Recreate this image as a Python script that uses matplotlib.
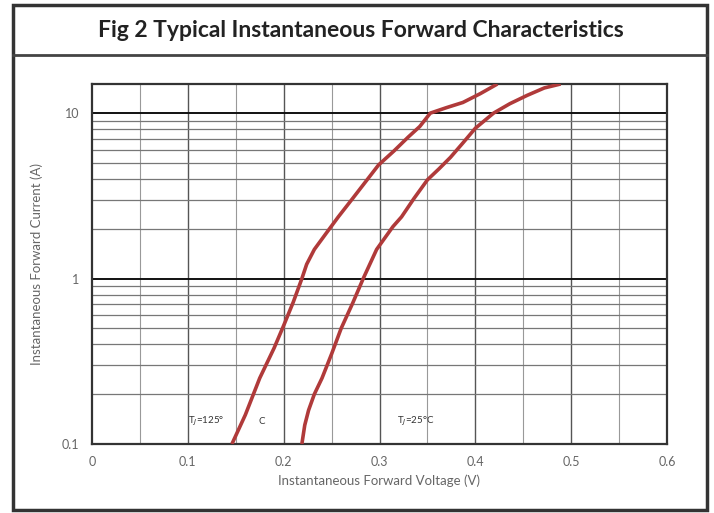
import numpy as np
import matplotlib.pyplot as plt
from matplotlib.patches import Rectangle
from matplotlib.lines import Line2D

# Forward characteristics
v_125 = [0.146, 0.160, 0.175, 0.190, 0.200, 0.210, 0.219, 0.224, 0.232, 0.245, 0.257, 0.272, 0.287,
         0.299, 0.315, 0.330, 0.342, 0.353, 0.370, 0.387, 0.405, 0.423]
i_125 = [0.10, 0.15, 0.25, 0.38, 0.52, 0.72, 1.00, 1.22, 1.50, 1.90, 2.36, 3.05, 3.95,
         4.86, 5.90, 7.17, 8.30, 10.0, 10.8, 11.6, 13.1, 15.0]

v_25 = [0.219, 0.222, 0.226, 0.232, 0.240, 0.250, 0.260, 0.272, 0.283, 0.297, 0.314, 0.323, 0.336,
        0.350, 0.362, 0.374, 0.387, 0.400, 0.419, 0.436, 0.454, 0.472, 0.489]
i_25 = [0.10, 0.13, 0.16, 0.20, 0.25, 0.35, 0.50, 0.71, 1.00, 1.50, 2.06, 2.36, 3.05,
        3.95, 4.60, 5.40, 6.60, 8.10, 10.0, 11.4, 12.8, 14.2, 15.0]

x_ticks = [0, 0.1, 0.2, 0.3, 0.4, 0.5, 0.6]
x_labels = ['0', '0.1', '0.2', '0.3', '0.4', '0.5', '0.6']
y_ticks = [0.1, 1, 10]
y_labels = ['0.1', '1', '10']

plt.rcParams['font.family'] = ['Lato', 'DejaVu Sans']

fig = plt.figure(figsize=(7.14, 5.13), dpi=100)
W, H = 714, 513

# outer frame and title box
frame = Rectangle((13 / W, 1 - 510 / H), (707 - 13) / W, (510 - 5) / H, transform=fig.transFigure,
                  fill=False, edgecolor='#333333', linewidth=2.5)
fig.add_artist(frame)
fig.add_artist(Line2D([13 / W, 707 / W], [1 - 55 / H, 1 - 55 / H], transform=fig.transFigure,
                      color='#444444', linewidth=2))
fig.text(361 / W, 1 - 31 / H, 'Fig 2 Typical Instantaneous Forward Characteristics',
         ha='center', va='center', fontsize=16.5, fontweight='bold', color='#222222')

ax = fig.add_axes([92 / W, 1 - 444 / H, (667 - 92) / W, (444 - 84) / H])
ax.set_yscale('log')
ax.set_xlim(0, 0.6)
ax.set_ylim(0.1, 15)

# grid: vertical every 0.05, horizontal at 2..9 of each decade
for x in np.arange(0.05, 0.6, 0.05):
    major = abs(round(x * 10) - x * 10) < 1e-6
    ax.axvline(x, color='#555555' if major else '#999999', linewidth=1.0 if major else 0.8, zorder=1)
for dec in [0.1, 1]:
    for k in range(2, 10):
        ax.axhline(dec * k, color='#777777', linewidth=0.9, zorder=1)
ax.axhline(1, color='#111111', linewidth=1.4, zorder=1)
ax.axhline(10, color='#111111', linewidth=1.4, zorder=1)

ax.plot(v_125, i_125, color='#b03a3a', linewidth=2.6, zorder=3, solid_capstyle='butt')
ax.plot(v_25, i_25, color='#b03a3a', linewidth=2.6, zorder=3, solid_capstyle='butt')

ax.text(0.1, 0.137, 'T$_J$=125°', fontsize=7, color='#333333', va='center', ha='left')
ax.text(0.174, 0.137, 'C', fontsize=7, color='#333333', va='center', ha='left')
ax.text(0.318, 0.137, 'T$_J$=25°C', fontsize=7, color='#333333', va='center', ha='left')

ax.set_xticks(x_ticks, labels=x_labels)
ax.set_yticks(y_ticks, labels=y_labels)
ax.yaxis.set_minor_locator(plt.NullLocator())
ax.tick_params(length=0, labelsize=9, labelcolor='#666666', pad=9)
for s in ax.spines.values():
    s.set_color('#333333')
    s.set_linewidth(1.6)

ax.set_xlabel('Instantaneous Forward Voltage (V)', fontsize=9.5, color='#666666', labelpad=4)
ax.set_ylabel('Instantaneous Forward Current (A)', fontsize=9.5, color='#666666', labelpad=14)

fig.savefig('out.png', dpi=100)
